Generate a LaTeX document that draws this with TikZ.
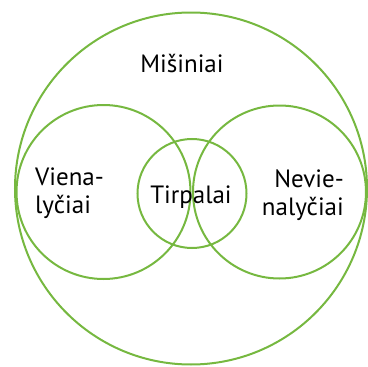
\documentclass[tikz,border=0pt]{standalone}
\usepackage{fontspec}
\setmainfont{PT Sans}
\definecolor{ringgreen}{RGB}{118,184,64}
\begin{document}
\begin{tikzpicture}[
  x=1pt, y=-1pt,
  ring/.style={circle, draw=ringgreen, line width=2pt, inner sep=0pt},
  lbl/.style={font=\fontsize{25}{28}\selectfont, inner sep=0pt, align=#1},
  lbl/.default=center
]
\useasboundingbox (0,0) rectangle (368,367);
\node[ring, minimum size=352pt] (mix) at (191,188.5) {};
\node[ring, minimum size=174pt] (homo) at (103.5,192) {};
\node[ring, minimum size=173pt] (hetero) at (279.5,192) {};
\node[ring, minimum size=109pt] (sol) at (192,193.5) {};

\node[lbl, anchor=base] (mixtxt) at (182,72) {Mišiniai};
\node[lbl=left, anchor=base west] (homotxt) at (35,213) {Viena-\\lyčiai};
\node[lbl, anchor=base] (soltxt) at (191,203) {Tirpalai};
\node[lbl=right, anchor=base east] (heterotxt) at (344,215) {Nevie-\\nalyčiai};
\end{tikzpicture}
\end{document}
